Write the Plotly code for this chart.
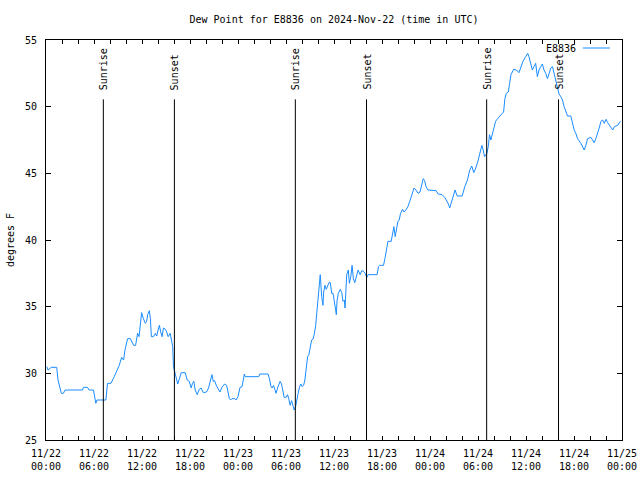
import pandas as pd
import plotly.graph_objects as go

# ---- data ----
start = "2024-11-22 00:00"
hours = [0.1, 0.25, 0.66, 1.34, 1.5, 1.76, 1.92, 2.17, 2.38, 4.55, 4.68, 5.18, 5.39, 5.93, 6.11, 6.23, 6.36,
         7.49, 7.69, 8.12, 8.53, 9.16, 9.45, 9.70, 9.87, 10.2, 10.54, 10.95, 11.2, 11.45, 11.63, 11.95, 12.17,
         12.42, 12.58, 12.71, 12.92, 13.05, 13.17, 13.42, 13.67, 13.84, 14.01, 14.17, 14.34, 14.51, 14.68,
         14.93, 15.09, 15.27, 15.52, 15.68, 15.84, 15.93, 16.09, 16.27, 16.47, 16.65, 16.9, 17.4, 17.65, 17.9,
         18.15, 18.31, 18.48, 18.65, 18.9, 19.15, 19.4, 19.66, 20.07, 20.32, 20.57, 20.74, 20.91, 21.07, 21.32,
         21.58, 21.74, 21.99, 22.33, 22.58, 22.74, 22.92, 23.08, 23.24, 23.58, 23.75, 24.0, 24.25, 24.5, 24.67,
         24.8, 24.9, 26.6, 26.72, 27.76, 27.97, 28.1, 28.26, 28.44, 28.6, 28.76, 28.94, 29.1, 29.26, 29.44,
         29.6, 29.77, 30.02, 30.19, 30.36, 30.52, 30.7, 30.86, 31.02, 31.2, 31.36, 31.52, 31.7, 31.86, 32.02,
         32.2, 32.36, 32.53, 32.7, 32.86, 33.03, 33.2, 33.37, 33.53, 33.71, 33.87, 34.03, 34.21, 34.28, 34.46,
         34.62, 34.71, 34.87, 35.03, 35.21, 35.37, 35.54, 35.71, 35.88, 36.04, 36.21, 36.29, 36.38, 36.54,
         36.79, 36.97, 37.13, 37.29, 37.38, 37.59, 37.79, 37.92, 38.1, 38.26, 38.42, 38.6, 38.76, 39.01, 39.26,
         39.47, 39.68, 39.89, 40.1, 40.27, 41.39, 41.56, 41.73, 42.19, 42.4, 42.56, 42.74, 43.15, 43.31, 43.49,
         43.65, 43.82, 43.99, 44.15, 44.32, 44.57, 44.74, 44.99, 45.24, 45.5, 45.75, 46.0, 46.25, 46.5, 46.75,
         46.91, 47.16, 47.33, 47.5, 47.75, 48.17, 48.76, 49.01, 49.51, 49.84, 50.05, 50.3, 50.46, 50.64, 50.89,
         51.14, 51.39, 52.02, 52.35, 52.68, 52.97, 53.22, 53.47, 53.72, 54.03, 54.28, 54.48, 54.65, 54.82,
         54.98, 55.11, 55.28, 55.44, 55.61, 55.78, 56.03, 56.2, 56.45, 56.7, 56.95, 57.2, 57.36, 57.54, 57.79,
         57.95, 58.12, 58.46, 58.79, 59.12, 59.37, 59.62, 59.96, 60.21, 60.37, 60.58, 60.8, 61.0, 61.21, 61.42,
         61.63, 61.84, 62.05, 62.25, 62.47, 62.68, 62.88, 63.1, 63.31, 63.51, 63.72, 63.93, 64.13, 64.35,
         64.56, 64.76, 64.98, 65.19, 65.6, 65.82, 66.02, 66.23, 66.44, 66.86, 67.27, 67.48, 67.7, 68.11, 68.32,
         68.52, 68.73, 68.95, 69.15, 69.37, 69.58, 69.78, 70.0, 70.21, 70.41, 70.62, 70.84, 71.04, 71.46, 71.79]
dewpoint = [30.5, 30.25, 30.45, 30.45, 29.5, 28.9, 28.5, 28.5, 28.75, 28.75, 28.95, 28.95, 28.75, 28.75, 28.05,
            27.75, 28.0, 28.0, 29.25, 29.25, 29.75, 30.6, 31.2, 31.0, 31.75, 32.6, 32.6, 32.1, 32.1, 33.0, 32.75,
            34.55, 34.1, 33.75, 33.9, 34.4, 34.7, 34.1, 32.75, 32.75, 33.0, 32.8, 33.25, 33.6, 33.1, 32.75, 33.4,
            33.3, 33.1, 32.75, 33.0, 32.6, 32.0, 30.5, 30.1, 29.7, 29.2, 29.55, 30.05, 30.05, 29.5, 29.4, 28.9,
            29.25, 29.4, 28.75, 28.4, 28.8, 28.9, 28.55, 28.6, 28.9, 29.5, 29.9, 29.4, 29.45, 29.05, 28.7, 28.6,
            28.95, 29.2, 29.1, 28.6, 28.1, 28.0, 28.1, 28.1, 28.0, 28.25, 28.95, 29.0, 29.55, 29.95, 29.75, 29.75,
            29.95, 29.95, 29.5, 29.05, 28.9, 29.1, 28.8, 28.5, 28.9, 29.1, 29.4, 29.2, 28.6, 28.2, 28.2, 28.4,
            28.05, 27.6, 27.95, 27.5, 27.25, 27.5, 28.1, 28.5, 29.0, 29.2, 29.0, 29.1, 29.5, 30.5, 31.25, 31.4,
            32.0, 32.5, 32.55, 32.9, 33.6, 34.6, 36.0, 36.9, 37.4, 35.75, 35.1, 36.1, 36.6, 36.3, 36.55, 36.8,
            36.8, 36.0, 36.0, 35.5, 34.75, 34.4, 35.45, 36.0, 36.3, 36.05, 35.4, 35.5, 34.9, 37.4, 37.75, 36.75,
            37.25, 38.1, 37.1, 36.8, 37.25, 37.75, 37.4, 37.7, 37.65, 37.5, 37.2, 37.4, 37.4, 38.0, 38.1, 38.1,
            38.7, 39.45, 39.9, 39.9, 40.6, 41.0, 40.25, 40.9, 41.4, 41.5, 42.0, 42.3, 42.1, 42.25, 42.5, 42.95,
            43.4, 43.9, 43.75, 43.5, 43.6, 44.1, 44.6, 44.45, 44.0, 43.75, 43.75, 43.7, 43.45, 43.4, 43.2, 43.0,
            42.7, 42.4, 42.8, 43.25, 43.75, 43.3, 43.3, 44.0, 44.5, 45.25, 45.55, 45.05, 45.4, 46.0, 46.75, 47.1,
            46.75, 46.25, 46.4, 46.5, 47.0, 47.9, 47.5, 47.9, 48.4, 48.9, 49.1, 49.3, 49.45, 49.6, 50.6, 51.0,
            51.1, 51.75, 52.4, 52.8, 52.75, 52.55, 52.95, 53.4, 53.75, 54.0, 53.75, 53.25, 52.75, 53.0, 53.25,
            52.25, 52.75, 53.0, 53.2, 52.75, 52.5, 52.1, 52.5, 52.9, 53.0, 52.5, 52.0, 51.5, 50.95, 50.75, 50.5,
            50.0, 49.6, 49.3, 49.3, 48.75, 48.25, 48.0, 47.6, 47.25, 46.75, 47.1, 47.6, 47.7, 47.5, 47.3, 47.6,
            47.95, 48.4, 48.9, 49.0, 48.75, 49.05, 48.8, 48.6, 48.4, 48.25, 48.5, 48.6, 48.9]
sunrise = ["2024-11-22 07:10", "2024-11-23 07:10", "2024-11-24 07:05"]
sunset = ["2024-11-22 16:03", "2024-11-23 16:04", "2024-11-24 16:04"]
tick_labels = ["11/22<br>00:00", "11/22<br>06:00", "11/22<br>12:00", "11/22<br>18:00",
               "11/23<br>00:00", "11/23<br>06:00", "11/23<br>12:00", "11/23<br>18:00",
               "11/24<br>00:00", "11/24<br>06:00", "11/24<br>12:00", "11/24<br>18:00",
               "11/25<br>00:00"]
station = "E8836"
y_ticks = [25, 30, 35, 40, 45, 50, 55]

# ---- build ----
FONT = "DejaVu Sans Mono"
LINE_COLOR = "#1a8cff"
t0 = pd.Timestamp(start)
times = t0 + pd.to_timedelta(hours, unit="h")
t_end = t0 + pd.Timedelta(hours=72)

tick_pos = pd.date_range(t0, t_end, freq="2h")
tick_text = []
for p in tick_pos:
    h = int((p - t0) / pd.Timedelta(hours=1))
    tick_text.append(tick_labels[h // 6] if h % 6 == 0 else "")

fig = go.Figure()
fig.add_trace(go.Scatter(x=times, y=dewpoint, mode="lines", name=station,
                         line=dict(color=LINE_COLOR, width=1), showlegend=False, hoverinfo="skip"))

LINE_TOP = 50.55
LABEL_BOTTOM = 51.1
for label, events in (("Sunrise", sunrise), ("Sunset", sunset)):
    for ev in events:
        fig.add_shape(type="line", xref="x", yref="y", x0=ev, x1=ev, y0=25, y1=LINE_TOP,
                      line=dict(color="black", width=1))
        fig.add_annotation(x=ev, y=LABEL_BOTTOM, xref="x", yref="y", text=label, textangle=-90,
                           showarrow=False, xanchor="center", yanchor="bottom",
                           font=dict(family=FONT, size=10, color="black"))

# manual legend (text then sample line, gnuplot style)
fig.add_annotation(x=0.924, y=0.98, xref="paper", yref="paper", text=station, showarrow=False,
                   xanchor="right", yanchor="middle", font=dict(family=FONT, size=10, color="black"))
fig.add_shape(type="line", xref="paper", yref="paper", x0=0.932, x1=0.979, y0=0.98, y1=0.98,
              line=dict(color=LINE_COLOR, width=1))

fig.update_layout(
    width=640, height=480,
    margin=dict(l=46, r=18, t=40, b=40),
    paper_bgcolor="white", plot_bgcolor="white",
    font=dict(family=FONT, size=10, color="black"),
    title=dict(text=f"Dew Point for {station} on 2024-Nov-22 (time in UTC)",
               x=0.5, xref="paper", xanchor="center", y=1 - 19 / 480, yanchor="middle",
               font=dict(family=FONT, size=10, color="black")),
    xaxis=dict(type="date", range=[t0, t_end], tickvals=list(tick_pos), ticktext=tick_text,
               ticks="inside", ticklen=4, tickcolor="black", showline=True, linecolor="black",
               linewidth=1, mirror="ticks", showgrid=False, zeroline=False, tickangle=0,
               ticklabelstandoff=4, automargin=False),
    yaxis=dict(range=[25, 55], tickvals=y_ticks, ticks="inside", ticklen=5, tickcolor="black",
               showline=True, linecolor="black", linewidth=1, mirror="ticks", showgrid=False,
               zeroline=False, ticklabelstandoff=6, automargin=False,
               title=dict(text="degrees F", standoff=8, font=dict(family=FONT, size=10))),
)

fig.write_html("out.html", config={"displayModeBar": False},
               post_script="document.body.style.margin='0';")
